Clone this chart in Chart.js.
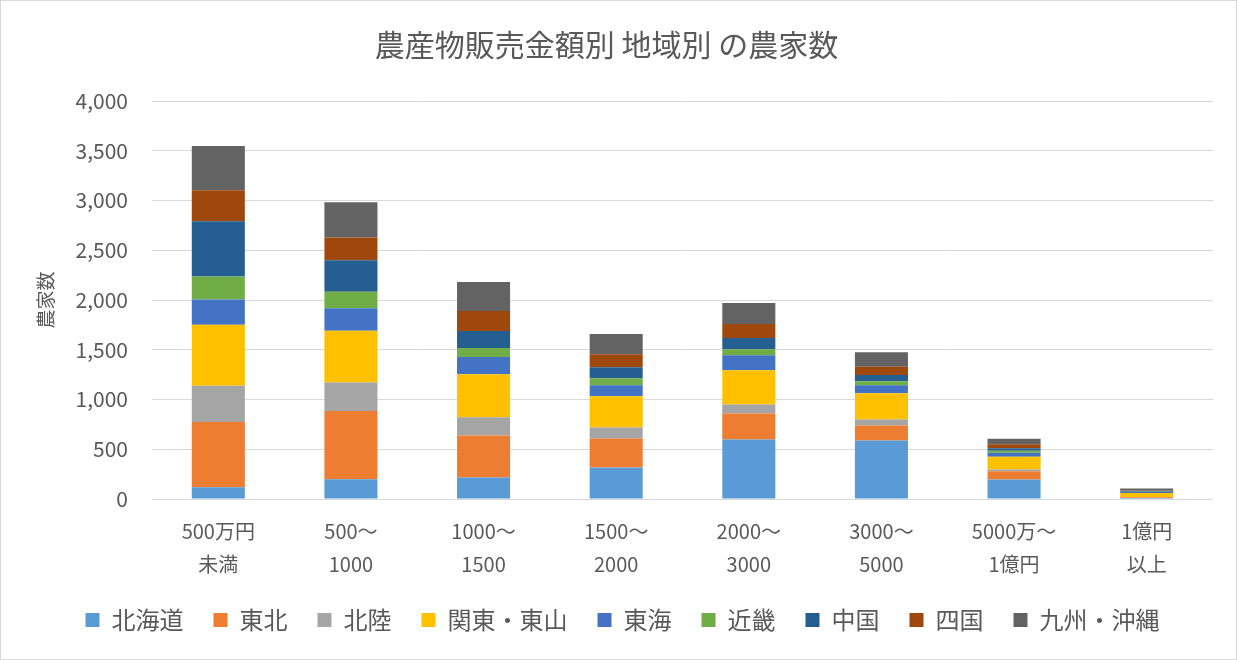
<!DOCTYPE html>
<html>
<head>
<meta charset="utf-8">
<script src="https://cdn.jsdelivr.net/npm/chart.js@4"></script>
<style>
html,body{margin:0;padding:0;background:#fff;}
canvas{display:block;}
</style>
</head>
<body>
<canvas id="c" width="1237" height="660"></canvas>
<script>
const categories = [["500万円","未満"],["500～","1000"],["1000～","1500"],["1500～","2000"],["2000～","3000"],["3000～","5000"],["5000万～","1億円"],["1億円","以上"]];
const regions = ["北海道","東北","北陸","関東・東山","東海","近畿","中国","四国","九州・沖縄"];
const hokkaido = [118, 198, 215, 316, 598, 588, 197, 10];
const tohoku   = [656, 686, 424, 292, 262, 151, 82, 8];
const hokuriku = [363, 286, 182, 111, 91, 61, 17, 3];
const kanto    = [615, 521, 434, 313, 343, 262, 129, 40];
const tokai    = [252, 225, 171, 111, 151, 81, 41, 10];
const kinki    = [232, 168, 91, 71, 61, 40, 20, 3];
const chugoku  = [555, 316, 171, 111, 111, 64, 24, 8];
const shikoku  = [313, 229, 202, 131, 141, 81, 41, 5];
const kyushu   = [444, 353, 292, 202, 212, 148, 54, 18];
const yTicks = [0, 500, 1000, 1500, 2000, 2500, 3000, 3500, 4000];

const seriesValues = [hokkaido, tohoku, hokuriku, kanto, tokai, kinki, chugoku, shikoku, kyushu];
const colors = ["#5B9BD5","#ED7D31","#A5A5A5","#FFC000","#4472C4","#70AD47","#255E91","#9E480E","#636363"];

const FONT = "'Noto Sans CJK JP', 'Noto Sans', sans-serif";
const GREY = "#595959";

const borderPlugin = {
  id: 'outerBorder',
  beforeDraw(chart) {
    const ctx = chart.ctx;
    ctx.save();
    ctx.fillStyle = '#fff';
    ctx.fillRect(0, 0, chart.width, chart.height);
    ctx.strokeStyle = '#d9d9d9';
    ctx.lineWidth = 1;
    ctx.strokeRect(0.5, 0.5, chart.width - 1, chart.height - 1);
    ctx.restore();
  },
  afterLayout(chart) {
    if (chart.legend) {
      chart.legend.left += 16;
      chart.legend.right += 16;
    }
  }
};

new Chart(document.getElementById('c'), {
  type: 'bar',
  data: {
    labels: categories,
    datasets: regions.map((name, i) => ({
      label: name,
      data: seriesValues[i],
      backgroundColor: colors[i],
      borderWidth: 0,
      categoryPercentage: 0.8,
      barPercentage: 0.5
    }))
  },
  plugins: [borderPlugin],
  options: {
    responsive: false,
    devicePixelRatio: 1,
    animation: false,
    layout: { padding: { left: 0, right: 24, top: 0, bottom: 18 } },
    plugins: {
      title: {
        display: true,
        text: '農産物販売金額別 地域別 の農家数',
        color: GREY,
        font: { family: FONT, size: 30, weight: 'normal', lineHeight: 1.2 },
        padding: { top: 27, bottom: 38 }
      },
      legend: {
        position: 'bottom',
        labels: {
          color: GREY,
          font: { family: FONT, size: 24 },
          boxWidth: 14,
          boxHeight: 14,
          padding: 30
        }
      },
      tooltip: { enabled: false }
    },
    scales: {
      x: {
        stacked: true,
        afterFit(scale) { scale.height = 79; },
        grid: { display: false, drawTicks: false },
        border: { display: false },
        ticks: {
          color: GREY,
          font: { family: FONT, size: 20, lineHeight: 1.65 },
          padding: 16,
          maxRotation: 0,
          autoSkip: false
        }
      },
      y: {
        stacked: true,
        min: 0,
        max: 4000,
        afterBuildTicks(scale) { scale.ticks = yTicks.map(v => ({ value: v })); },
        afterFit(scale) { scale.width = 152; },
        grid: { color: '#d9d9d9', lineWidth: 1, drawTicks: false },
        border: { display: false },
        title: {
          display: true,
          text: '農家数',
          color: GREY,
          font: { family: FONT, size: 19 },
          padding: { top: 34, bottom: 0 }
        },
        ticks: {
          color: GREY,
          font: { family: FONT, size: 21 },
          padding: 24,
          callback: (v) => v.toLocaleString('en-US')
        }
      }
    }
  }
});
</script>
</body>
</html>
